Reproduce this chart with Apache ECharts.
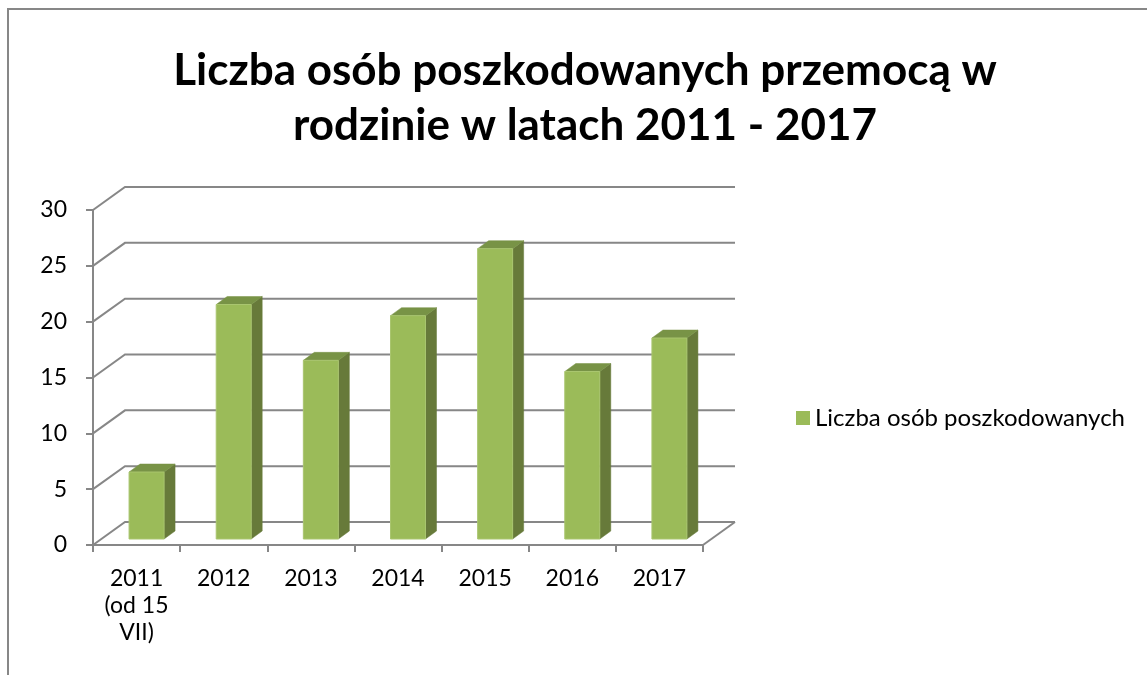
<!DOCTYPE html>
<html>
<head>
<meta charset="utf-8">
<script src="https://cdn.jsdelivr.net/npm/echarts@6/dist/echarts.min.js"></script>
<style>
  html, body { margin: 0; padding: 0; background: #fff; }
  #chart { width: 1147px; height: 675px; }
</style>
</head>
<body>
<div id="chart"></div>
<script>
// dane
const years   = ['2011\n(od 15\nVII)', '2012', '2013', '2014', '2015', '2016', '2017'];
const victims = [6, 21, 16, 20, 26, 15, 18];
const yTicks  = [0, 5, 10, 15, 20, 25, 30];
const seriesName = 'Liczba osób poszkodowanych';

// pseudo 3D
const WALL_DX = 32, WALL_DY = 23;
const BAR_W = 35, BAR_OFF_X = 10, BAR_OFF_Y = -6;
const BAR_DX = 11, BAR_DY = 8;

const GRID_COLOR = '#878787';
const FONT = 'Lato, "Open Sans", sans-serif';

const chart = echarts.init(document.getElementById('chart'), null, { renderer: 'canvas' });

function renderWall(params, api) {
  const cs = params.coordSys;
  const v = api.value(1);
  const y = api.coord([0, v])[1];
  const left = cs.x, right = cs.x + cs.width;
  const children = [{
    type: 'polyline',
    shape: { points: [[left, y], [left + WALL_DX, y - WALL_DY], [right + WALL_DX, y - WALL_DY]] },
    style: { stroke: GRID_COLOR, lineWidth: 2, fill: null },
  }];
  if (v === 0) {
    children.push({
      type: 'line',
      shape: { x1: right, y1: y, x2: right + WALL_DX, y2: y - WALL_DY },
      style: { stroke: GRID_COLOR, lineWidth: 2 },
    });
  }
  return { type: 'group', children };
}

function renderBar(params, api) {
  const top  = api.coord([api.value(0), api.value(1)]);
  const base = api.coord([api.value(0), 0]);
  const cx = top[0] + BAR_OFF_X;
  const xl = cx - BAR_W / 2, xr = cx + BAR_W / 2;
  const yt = top[1] + BAR_OFF_Y, yb = base[1] + BAR_OFF_Y;
  return {
    type: 'group',
    children: [
      { type: 'polygon',
        shape: { points: [[xr, yt], [xr, yb], [xr + BAR_DX, yb - BAR_DY], [xr + BAR_DX, yt - BAR_DY]] },
        style: { fill: '#677a3a', stroke: '#677a3a', lineWidth: 0.5 } },
      { type: 'polygon',
        shape: { points: [[xl, yt], [xr, yt], [xr + BAR_DX, yt - BAR_DY], [xl + BAR_DX, yt - BAR_DY]] },
        style: { fill: '#789346', stroke: '#789346', lineWidth: 0.5 } },
      { type: 'rect',
        shape: { x: xl, y: yt, width: BAR_W, height: yb - yt },
        style: { fill: '#9bbb59', stroke: '#a9c56f', lineWidth: 1 } },
    ],
  };
}

chart.setOption({
  animation: false,
  backgroundColor: '#fff',
  title: {
    text: 'Liczba osób poszkodowanych przemocą w\nrodzinie w latach 2011 - 2017',
    left: 585,
    top: 43,
    padding: 0,
    textAlign: 'center',
    textStyle: { color: '#000', fontSize: 44, fontWeight: 'bold', fontFamily: FONT, lineHeight: 55 },
  },
  legend: {
    data: [seriesName],
    left: 791,
    top: 401,
    icon: 'rect',
    itemWidth: 14,
    itemHeight: 14,
    itemGap: 6,
    textStyle: { color: '#000', fontSize: 24, fontFamily: FONT },
  },
  graphic: [{
    type: 'rect',
    shape: { x: 8, y: 9, width: 1160, height: 700 },
    style: { fill: null, stroke: GRID_COLOR, lineWidth: 2 },
    silent: true,
  }],
  grid: { left: 93, top: 210, right: 444, bottom: 130, containLabel: false },
  xAxis: {
    type: 'category',
    data: years,
    axisLine: { lineStyle: { color: GRID_COLOR, width: 2 } },
    axisTick: { show: true, length: 7, lineStyle: { color: GRID_COLOR, width: 2 } },
    axisLabel: { interval: 0, color: '#000', fontSize: 23, lineHeight: 27, margin: 20, fontFamily: FONT },
    splitLine: { show: false },
  },
  yAxis: {
    type: 'value',
    min: 0,
    max: 30,
    interval: 5,
    axisLine: { show: true, lineStyle: { color: GRID_COLOR, width: 2 } },
    axisTick: { show: true, length: 7, lineStyle: { color: GRID_COLOR, width: 2 } },
    axisLabel: { color: '#000', fontSize: 23, margin: 26, fontFamily: FONT, padding: [8, 0, 0, 0] },
    splitLine: { show: false },
  },
  series: [
    {
      type: 'custom',
      name: 'wall',
      silent: true,
      renderItem: renderWall,
      data: yTicks.map(v => [0, v]),
      encode: { x: 0, y: 1 },
      z: 1,
    },
    {
      type: 'custom',
      name: seriesName,
      renderItem: renderBar,
      data: victims.map((v, i) => [i, v]),
      encode: { x: 0, y: 1 },
      itemStyle: { color: '#9bbb59' },
      z: 2,
    },
  ],
});
</script>
</body>
</html>
